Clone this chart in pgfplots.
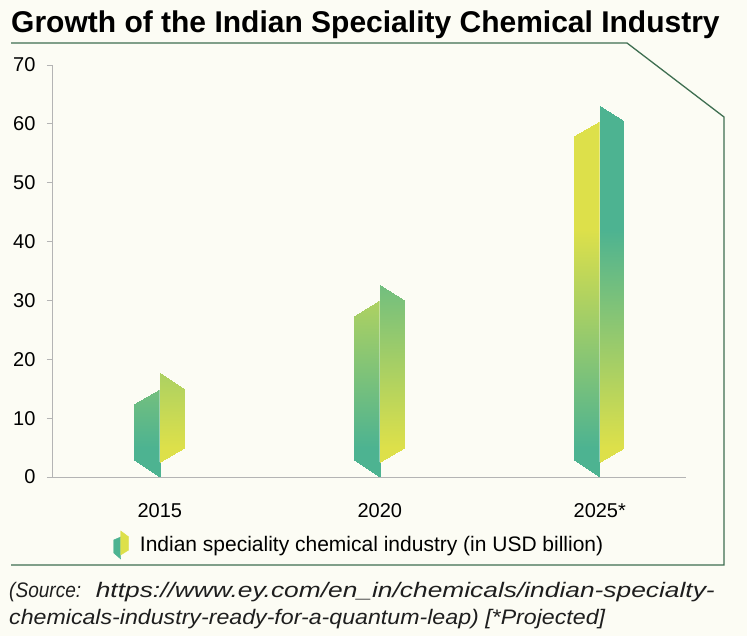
\documentclass[border=0pt]{standalone}
\usepackage{pgfplots}
\pgfplotsset{compat=1.18}
\usepackage{graphicx}
\usepackage{fontspec}
\setmainfont{Liberation Sans}
\definecolor{bg}{RGB}{252,252,244}
\definecolor{frame}{RGB}{62,110,80}
\definecolor{gr}{RGB}{77,179,145}
\definecolor{ye}{RGB}{221,224,74}
\definecolor{axgray}{RGB}{180,180,180}
\definecolor{srcgray}{RGB}{30,30,30}
\pgfplotsset{
  colormap={rightmap}{rgb255(0cm)=(221,224,74) rgb255(5cm)=(221,224,74) rgb255(42cm)=(77,179,145) rgb255(70cm)=(77,179,145)},
  colormap={leftmap}{rgb255(0cm)=(77,179,145) rgb255(5cm)=(77,179,145) rgb255(42cm)=(221,224,74) rgb255(70cm)=(221,224,74)},
}
\begin{document}
\begin{tikzpicture}[x=1pt,y=1pt]
\fill[bg] (0,0) rectangle (747,636);
\node[anchor=base west, inner sep=0, font=\fontsize{30}{32}\selectfont\bfseries] at (11,603) {Growth of the Indian Speciality Chemical Industry};
\draw[frame, line width=1.3pt] (11,593) -- (627,593) -- (724,519) -- (724,71) -- (11,71);
\begin{axis}[
  at={(52pt,159pt)}, anchor=south west, scale only axis,
  width=634pt, height=412pt,
  xmin=-0.49, xmax=2.392, ymin=0, ymax=70,
  axis lines=left,
  axis line style={-, draw=axgray, line width=0.8pt},
  ytick={0,10,...,70},
  xtick={0,1,2}, xticklabels={2015,2020,2025*},
  tick align=outside, major tick length=5pt,
  ytick style={draw=axgray, line width=0.8pt},
  xtick style={draw=none},
  tick label style={font=\fontsize{20}{24}\selectfont, /pgf/number format/assume math mode=true},
  yticklabel style={xshift=-8pt},
  xticklabel style={yshift=-18pt},
  point meta min=0, point meta max=70,
  clip=false,
  legend style={at={(0.092,-0.165)}, anchor=west, draw=none, fill=none,
    font=\fontsize{21}{24}\selectfont},
  legend cell align=left,
]
% left faces of the ribbons
\addplot[patch, patch type=rectangle, shader=interp, colormap name=leftmap, point meta=\thisrow{y}, forget plot] table {
x y
-0.116 2.9
0 0
0 15
-0.116 12.4
0.884 2.9
1 0
1 30
0.884 27.4
1.884 2.9
2 0
2 60.5
1.884 57.9
};
% right faces of the ribbons
\addplot[patch, patch type=rectangle, shader=interp, colormap name=rightmap, point meta=\thisrow{y}, forget plot] table {
x y
0 2.5
0.11 4.9
0.11 15
0 17.6
1 2.5
1.11 4.9
1.11 30
1 32.6
2 2.5
2.11 4.9
2.11 60.5
2 63.1
};
% light fold line between the two faces
\addplot[draw=white, opacity=0.35, line width=0.8pt, forget plot] coordinates {(0,2.5) (0,15)};
\addplot[draw=white, opacity=0.35, line width=0.8pt, forget plot] coordinates {(1,2.5) (1,30)};
\addplot[draw=white, opacity=0.35, line width=0.8pt, forget plot] coordinates {(2,2.5) (2,60.5)};
\addlegendimage{legend image code/.code={
  \fill[gr] (0pt,5pt) -- (0pt,-8pt) -- (7pt,-14pt) -- (7pt,8pt) -- cycle;
  \fill[ye] (7pt,-10pt) -- (15pt,-5pt) -- (15pt,8pt) -- (7pt,14pt) -- cycle;
  \path (24pt,0pt);
}}
\addlegendentry{Indian speciality chemical industry (in USD billion)}
\end{axis}
\node[anchor=base west, inner sep=0, font=\fontsize{21}{24}\selectfont\itshape, text=srcgray] at (9,38) {\resizebox{72pt}{\height}{(Source:}};
\node[anchor=base east, inner sep=0, font=\fontsize{21}{24}\selectfont\itshape, text=srcgray] at (715,38) {\resizebox{619pt}{\height}{https://www.ey.com/en\_in/chemicals/indian-specialty-}};
\node[anchor=base west, inner sep=0, font=\fontsize{21}{24}\selectfont\itshape, text=srcgray] at (9,11) {\resizebox{596pt}{\height}{chemicals-industry-ready-for-a-quantum-leap) [*Projected]}};
\end{tikzpicture}
\end{document}
